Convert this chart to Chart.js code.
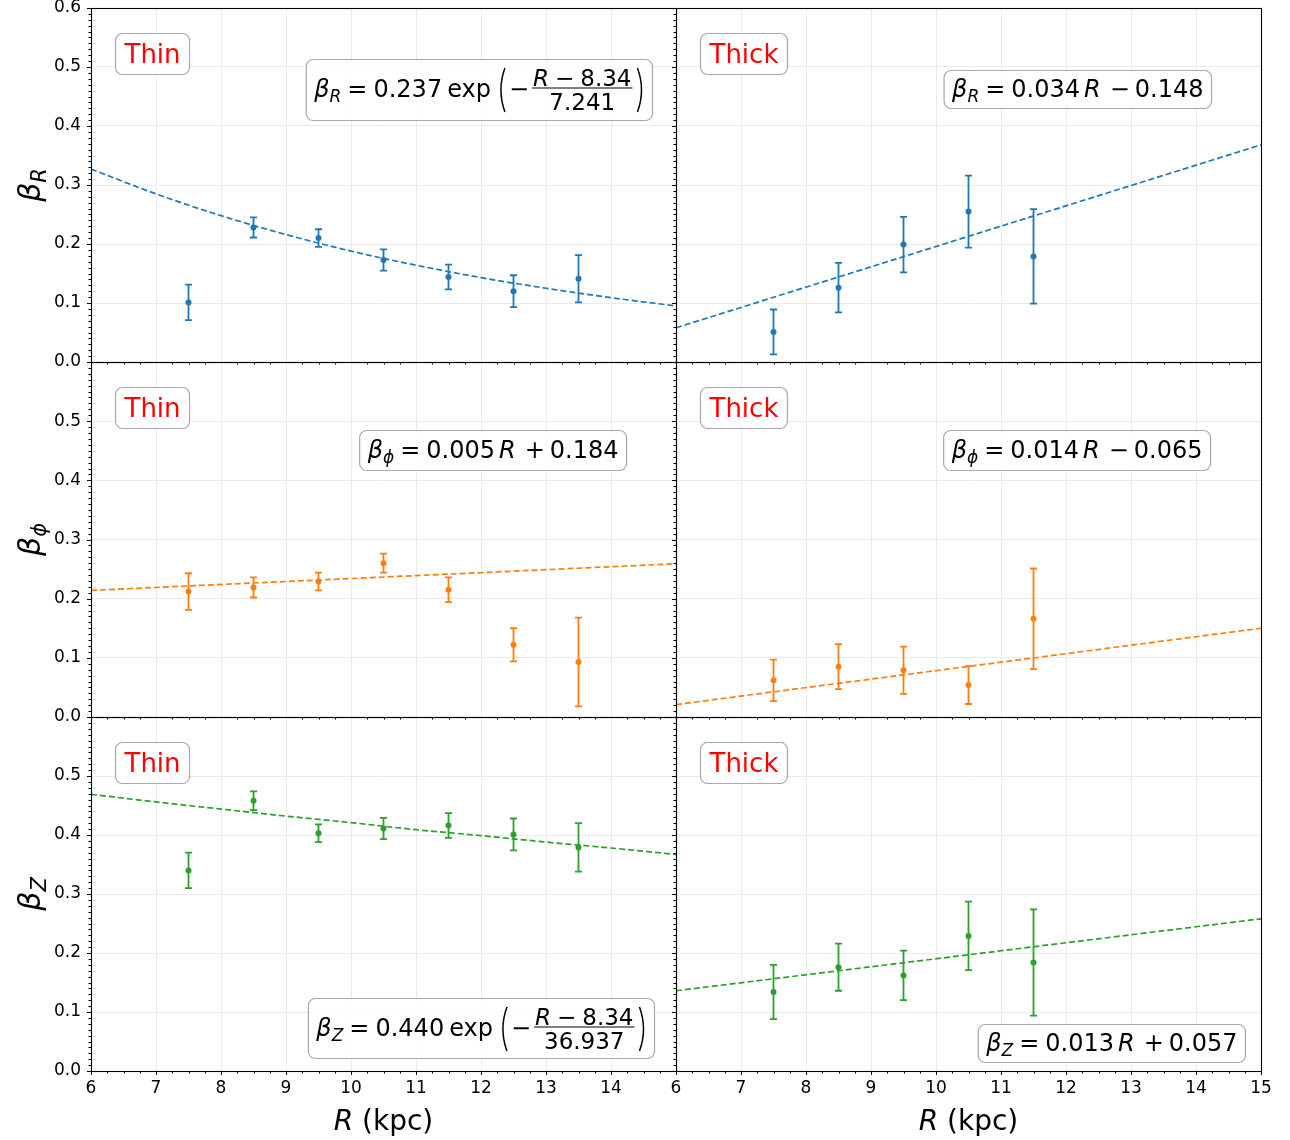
<!DOCTYPE html>
<html>
<head>
<meta charset="utf-8">
<script src="https://cdn.jsdelivr.net/npm/chart.js@4.4.1/dist/chart.umd.min.js"></script>
<style>
  html, body { margin: 0; padding: 0; background: #fff; }
  #wrap { position: relative; width: 1290px; height: 1140px; }
  #wrap canvas { position: absolute; left: 0; top: 0; }
</style>
</head>
<body>
<div id="wrap"></div>
<script>
// bins (kpc)
const binsThin = [7.5, 8.5, 9.5, 10.5, 11.5, 12.5, 13.5];
const binsThick = [7.5, 8.5, 9.5, 10.5, 11.5];

const thinBetaR = [0.101, 0.228, 0.210, 0.173, 0.144, 0.120, 0.141];
const thinBetaRErr = [0.030, 0.017, 0.015, 0.018, 0.021, 0.027, 0.040];
const thickBetaR = [0.051, 0.126, 0.199, 0.255, 0.179];
const thickBetaRErr = [0.038, 0.042, 0.047, 0.061, 0.080];
const thinBetaPhi = [0.212, 0.219, 0.229, 0.260, 0.215, 0.122, 0.093];
const thinBetaPhiErr = [0.031, 0.017, 0.015, 0.016, 0.021, 0.028, 0.075];
const thickBetaPhi = [0.062, 0.085, 0.079, 0.054, 0.166];
const thickBetaPhiErr = [0.035, 0.038, 0.040, 0.032, 0.085];
const thinBetaZ = [0.340, 0.458, 0.403, 0.411, 0.416, 0.401, 0.379];
const thinBetaZErr = [0.030, 0.016, 0.015, 0.018, 0.021, 0.027, 0.041];
const thickBetaZ = [0.134, 0.176, 0.162, 0.229, 0.184];
const thickBetaZErr = [0.046, 0.040, 0.042, 0.058, 0.090];

// fitted curves (dashed)
const fitCurveR = [6, 7, 8, 9, 10, 11, 12, 13, 14, 15];
const thinBetaRFit = [0.327, 0.285, 0.248, 0.216, 0.188, 0.164, 0.143, 0.125, 0.109, 0.095];
const thinBetaZFit = [0.469, 0.456, 0.444, 0.432, 0.421, 0.409, 0.399, 0.388, 0.378, 0.367];
const fitLineR = [6, 15];
const thickBetaRFit = [0.058, 0.368];
const thinBetaPhiFit = [0.214, 0.259];
const thickBetaPhiFit = [0.021, 0.150];
const thickBetaZFit = [0.136, 0.258];

// ticks
const xTickValues = [6, 7, 8, 9, 10, 11, 12, 13, 14, 15];
const yTickValues = [0, 0.1, 0.2, 0.3, 0.4, 0.5, 0.6];

const BLUE = '#1f77b4', ORANGE = '#ff7f0e', GREEN = '#2ca02c';
const FONT = '"DejaVu Sans"';

const colLeft = [91, 676];
const colWidth = 585;
const rowTop = [8, 362, 717];
const rowBottom = [362, 717, 1071];

// ---- little mathtext helpers ----
function fontOf(tok) { return (tok.it ? 'italic ' : '') + tok.s + 'px ' + FONT; }

function fracWidth(ctx, f) {
  return Math.max(runWidth(ctx, f.num), runWidth(ctx, f.den)) + 4;
}

function runWidth(ctx, toks) {
  let w = 0;
  toks.forEach(tok => {
    if (tok.gap) w += tok.gap;
    else if (tok.paren) w += 9;
    else if (tok.frac) w += fracWidth(ctx, tok.frac);
    else { ctx.font = fontOf(tok); w += ctx.measureText(tok.t).width; }
  });
  return w;
}

function drawParen(ctx, ch, x, y) {
  const top = y - 29, bot = y + 15, mid = (top + bot) / 2;
  ctx.beginPath();
  if (ch === '(') { ctx.moveTo(x + 7, top); ctx.quadraticCurveTo(x - 1, mid, x + 7, bot); }
  else { ctx.moveTo(x + 2, top); ctx.quadraticCurveTo(x + 10, mid, x + 2, bot); }
  ctx.lineWidth = 1.5;
  ctx.stroke();
}

function drawRun(ctx, toks, x, y) {
  toks.forEach(tok => {
    if (tok.gap) { x += tok.gap; return; }
    if (tok.paren) { drawParen(ctx, tok.paren, x, y); x += 9; return; }
    if (tok.frac) {
      const fw = fracWidth(ctx, tok.frac);
      const nw = runWidth(ctx, tok.frac.num), dw = runWidth(ctx, tok.frac.den);
      drawRun(ctx, tok.frac.num, x + (fw - nw) / 2, y - 11.5);
      drawRun(ctx, tok.frac.den, x + (fw - dw) / 2, y + 13);
      ctx.beginPath();
      ctx.moveTo(x + 1, y - 9);
      ctx.lineTo(x + fw - 1, y - 9);
      ctx.lineWidth = 1.2;
      ctx.stroke();
      x += fw;
      return;
    }
    ctx.font = fontOf(tok);
    ctx.fillText(tok.t, x, y + (tok.dy || 0));
    x += ctx.measureText(tok.t).width;
  });
  return x;
}

const beta = sub => [{ t: 'β', s: 24, it: true }, { t: sub, s: 17, it: true, dy: 5 }];
const linEq = (sub, a, sign, b) => [...beta(sub), { gap: 6 }, { t: '=', s: 24 }, { gap: 6 },
  { t: a, s: 24 }, { gap: 4 }, { t: 'R', s: 24, it: true }, { gap: 9 }, { t: sign, s: 24 }, { gap: 5 }, { t: b, s: 24 }];
const expEq = (sub, a, den) => [...beta(sub), { gap: 6 }, { t: '=', s: 24 }, { gap: 6 },
  { t: a, s: 24 }, { gap: 5 }, { t: 'exp', s: 24 }, { gap: 7 }, { paren: '(' }, { gap: 2 }, { t: '−', s: 24 }, { gap: 2 },
  { frac: { num: [{ t: 'R', s: 23, it: true }, { gap: 6 }, { t: '−', s: 23 }, { gap: 6 }, { t: '8.34', s: 23 }],
            den: [{ t: den, s: 23 }] } },
  { gap: 2 }, { paren: ')' }];

const panels = [
  { row: 0, col: 0, label: 'Thin', color: BLUE, x: binsThin, y: thinBetaR, err: thinBetaRErr,
    fitX: fitCurveR, fitY: thinBetaRFit, ylab: 'R',
    eq: expEq('R', '0.237', '7.241'), eqRight: 652, eqTop: 59, eqH: 61, eqBase: 38 },
  { row: 0, col: 1, label: 'Thick', color: BLUE, x: binsThick, y: thickBetaR, err: thickBetaRErr,
    fitX: fitLineR, fitY: thickBetaRFit,
    eq: linEq('R', '0.034', '−', '0.148'), eqRight: 1211, eqTop: 70, eqH: 38, eqBase: 27 },
  { row: 1, col: 0, label: 'Thin', color: ORANGE, x: binsThin, y: thinBetaPhi, err: thinBetaPhiErr,
    fitX: fitLineR, fitY: thinBetaPhiFit, ylab: 'ϕ',
    eq: linEq('ϕ', '0.005', '+', '0.184'), eqRight: 626, eqTop: 430, eqH: 40, eqBase: 28 },
  { row: 1, col: 1, label: 'Thick', color: ORANGE, x: binsThick, y: thickBetaPhi, err: thickBetaPhiErr,
    fitX: fitLineR, fitY: thickBetaPhiFit,
    eq: linEq('ϕ', '0.014', '−', '0.065'), eqRight: 1210, eqTop: 430, eqH: 40, eqBase: 28 },
  { row: 2, col: 0, label: 'Thin', color: GREEN, x: binsThin, y: thinBetaZ, err: thinBetaZErr,
    fitX: fitCurveR, fitY: thinBetaZFit, ylab: 'Z',
    eq: expEq('Z', '0.440', '36.937'), eqRight: 654, eqTop: 998, eqH: 60, eqBase: 38 },
  { row: 2, col: 1, label: 'Thick', color: GREEN, x: binsThick, y: thickBetaZ, err: thickBetaZErr,
    fitX: fitLineR, fitY: thickBetaZFit,
    eq: linEq('Z', '0.013', '+', '0.057'), eqRight: 1245, eqTop: 1024, eqH: 38, eqBase: 27 }
];

function drawBox(ctx, x, y, w, h) {
  ctx.beginPath();
  ctx.roundRect(x + 0.5, y + 0.5, w, h, 7);
  ctx.fillStyle = 'rgba(255,255,255,0.85)';
  ctx.fill();
  ctx.strokeStyle = '#a8a8a8';
  ctx.lineWidth = 1.2;
  ctx.stroke();
}

function makePanel(p) {
  const canvas = document.createElement('canvas');
  canvas.width = 1290;
  canvas.height = 1140;
  document.getElementById('wrap').appendChild(canvas);

  const left = colLeft[p.col], right = left + colWidth;
  const top = rowTop[p.row], bottom = rowBottom[p.row];
  const showX = p.row === 2, showY = p.col === 0;
  // axes get the real room for their labels so Chart.js does not clip them
  const yAxisW = showY ? left : 0;
  const xAxisH = showX ? 1140 - bottom : 0;

  const decor = {
    id: 'decor' + p.row + p.col,
    beforeDatasetsDraw(chart) {
      const ctx = chart.ctx, xs = chart.scales.x, ys = chart.scales.y;
      ctx.save();
      ctx.strokeStyle = p.color;
      ctx.lineWidth = 1.8;
      p.x.forEach((xv, i) => {
        const px = xs.getPixelForValue(xv);
        const y1 = ys.getPixelForValue(p.y[i] + p.err[i]);
        const y2 = ys.getPixelForValue(p.y[i] - p.err[i]);
        ctx.beginPath();
        ctx.moveTo(px, y1); ctx.lineTo(px, y2);
        ctx.moveTo(px - 3.5, y1); ctx.lineTo(px + 3.5, y1);
        ctx.moveTo(px - 3.5, y2); ctx.lineTo(px + 3.5, y2);
        ctx.stroke();
      });
      ctx.restore();
    },
    afterDraw(chart) {
      const ctx = chart.ctx, xs = chart.scales.x, ys = chart.scales.y;
      const a = chart.chartArea;
      ctx.save();
      ctx.textAlign = 'left';
      ctx.textBaseline = 'alphabetic';
      // frame
      ctx.strokeStyle = '#000';
      ctx.lineWidth = 1.1;
      ctx.strokeRect(Math.round(a.left) + 0.5, Math.round(a.top) + 0.5,
        Math.round(a.right - a.left), Math.round(a.bottom - a.top));
      // outward ticks, bottom and left
      ctx.lineWidth = 1;
      ctx.beginPath();
      for (let v = 6; v <= 15.001; v += 0.25) {
        const px = Math.round(xs.getPixelForValue(v)) + 0.5;
        const major = Math.abs(v - Math.round(v)) < 1e-6;
        ctx.moveTo(px, a.bottom);
        ctx.lineTo(px, a.bottom + (major ? 4 : 2.5));
      }
      for (let k = 0; k <= 60; k++) {
        const py = Math.round(ys.getPixelForValue(k / 100)) + 0.5;
        const major = k % 10 === 0;
        ctx.moveTo(a.left, py);
        ctx.lineTo(a.left - (major ? 4 : 2.5), py);
      }
      ctx.stroke();

      // Thin / Thick tag
      ctx.font = '26px ' + FONT;
      const tw = ctx.measureText(p.label).width;
      const bx = a.left + 24, by = a.top + 25;
      drawBox(ctx, bx, by, tw + 18, 41);
      ctx.fillStyle = '#ff0000';
      ctx.fillText(p.label, bx + 9.5, by + 30);

      // fit equation
      ctx.fillStyle = '#000';
      ctx.strokeStyle = '#000';
      const ew = runWidth(ctx, p.eq);
      const ex = p.eqRight - ew - 16;
      drawBox(ctx, ex, p.eqTop, ew + 16, p.eqH);
      ctx.fillStyle = '#000';
      ctx.strokeStyle = '#000';
      drawRun(ctx, p.eq, ex + 8.5, p.eqTop + p.eqBase);

      // axis titles
      if (showX) {
        const toks = [{ t: 'R', s: 28, it: true }, { t: ' (kpc)', s: 28 }];
        const w = runWidth(ctx, toks);
        drawRun(ctx, toks, (a.left + a.right) / 2 - w / 2, 1130);
      }
      if (showY) {
        const toks = [{ t: 'β', s: 30, it: true }, { t: p.ylab, s: 21, it: true, dy: 6 }];
        const w = runWidth(ctx, toks);
        ctx.translate(40, (a.top + a.bottom) / 2);
        ctx.rotate(-Math.PI / 2);
        drawRun(ctx, toks, -w / 2, 0);
      }
      ctx.restore();
    }
  };

  new Chart(canvas, {
    type: 'scatter',
    data: {
      datasets: [
        {
          type: 'line',
          data: p.fitX.map((v, i) => ({ x: v, y: p.fitY[i] })),
          borderColor: p.color,
          borderWidth: 1.7,
          borderDash: [6, 3],
          pointRadius: 0,
          fill: false,
          cubicInterpolationMode: 'monotone',
          order: 2
        },
        {
          data: p.x.map((v, i) => ({ x: v, y: p.y[i] })),
          backgroundColor: p.color,
          borderColor: p.color,
          pointRadius: 3,
          pointBorderWidth: 0,
          order: 1
        }
      ]
    },
    options: {
      responsive: false,
      animation: false,
      devicePixelRatio: 1,
      events: [],
      layout: {
        padding: { left: left - yAxisW, top: top, right: 1290 - right, bottom: 1140 - bottom - xAxisH }
      },
      plugins: { legend: { display: false }, tooltip: { enabled: false } },
      scales: {
        x: {
          type: 'linear',
          min: 6, max: 15,
          afterBuildTicks: s => { s.ticks = xTickValues.map(v => ({ value: v })); },
          afterFit: s => { s.height = xAxisH; s.paddingLeft = s.paddingRight = s.paddingTop = s.paddingBottom = 0; },
          grid: { color: '#ebebeb', lineWidth: 1, drawTicks: false },
          border: { display: false },
          ticks: {
            display: showX,
            autoSkip: false,
            maxRotation: 0,
            padding: 7,
            color: '#000',
            font: { family: 'DejaVu Sans', size: 17 },
            callback: v => (p.col === 0 && v === 15) ? '' : String(v)
          }
        },
        y: {
          type: 'linear',
          min: 0, max: 0.6,
          afterBuildTicks: s => { s.ticks = yTickValues.map(v => ({ value: v })); },
          afterFit: s => { s.width = yAxisW; s.paddingLeft = s.paddingRight = s.paddingTop = s.paddingBottom = 0; },
          grid: { color: '#ebebeb', lineWidth: 1, drawTicks: false },
          border: { display: false },
          ticks: {
            display: showY,
            autoSkip: false,
            padding: 10,
            color: '#000',
            font: { family: 'DejaVu Sans', size: 17 },
            callback: v => (p.row > 0 && Math.abs(v - 0.6) < 1e-9) ? '' : v.toFixed(1)
          }
        }
      }
    },
    plugins: [decor]
  });
}

panels.forEach(makePanel);
</script>
</body>
</html>
